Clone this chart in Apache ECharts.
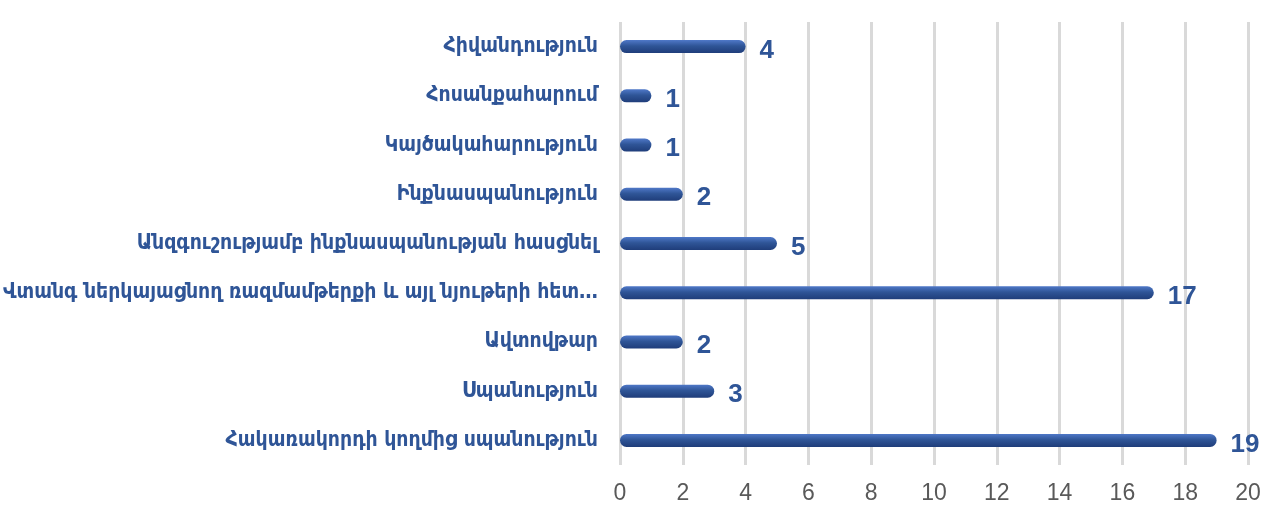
<!DOCTYPE html>
<html><head><meta charset="utf-8">
<script src="https://cdn.jsdelivr.net/npm/echarts@6/dist/echarts.min.js"></script>
<style>html,body{margin:0;padding:0;background:#fff}#c{width:1275px;height:509px}</style>
</head><body><div id="c"></div>
<script>
const categories = [
  "Հակառակորդի կողմից սպանություն",
  "Սպանություն",
  "Ավտովթար",
  "Վտանգ ներկայացնող ռազմամթերքի և այլ նյութերի հետ…",
  "Անզգուշությամբ ինքնասպանության հասցնել",
  "Ինքնասպանություն",
  "Կայծակահարություն",
  "Հոսանքահարում",
  "Հիվանդություն"
];
const values = [19, 3, 2, 17, 5, 2, 1, 1, 4];
const xTicks = [0, 2, 4, 6, 8, 10, 12, 14, 16, 18, 20];

const chart = echarts.init(document.getElementById('c'));
chart.setOption({
  animation: false,
  grid: {left: 620, right: 27, top: 22, bottom: 44, containLabel: false},
  xAxis: {
    type: 'value', min: xTicks[0], max: xTicks[xTicks.length-1], interval: 2,
    axisLine: {show: false}, axisTick: {show: false},
    splitLine: {lineStyle: {color: '#d9d9d9', width: 3}},
    axisLabel: {color: '#595959', fontSize: 23, fontFamily: 'Liberation Sans', margin: 17}
  },
  yAxis: {
    type: 'category', data: categories,
    axisLine: {show: false}, axisTick: {show: false},
    axisLabel: {color: '#2f5597', fontSize: 21, fontWeight: 'bold', fontFamily: 'DejaVu Sans Condensed', margin: 22, verticalAlign: 'middle', padding: [0, 0, 6, 0]}
  },
  series: [{
    type: 'bar', data: values, barWidth: 13,
    itemStyle: {
      borderRadius: 6.5,
      color: new echarts.graphic.LinearGradient(0,0,0,1,[
        {offset: 0, color: '#4f78c8'},
        {offset: 0.45, color: '#2f5597'},
        {offset: 1, color: '#1f3d7a'}
      ])
    },
    label: {show: true, position: 'right', distance: 14, color: '#2f5597', fontSize: 26, fontWeight: 'bold', fontFamily: 'Liberation Sans', offset: [0, 4]}
  }]
});
</script></body></html>
